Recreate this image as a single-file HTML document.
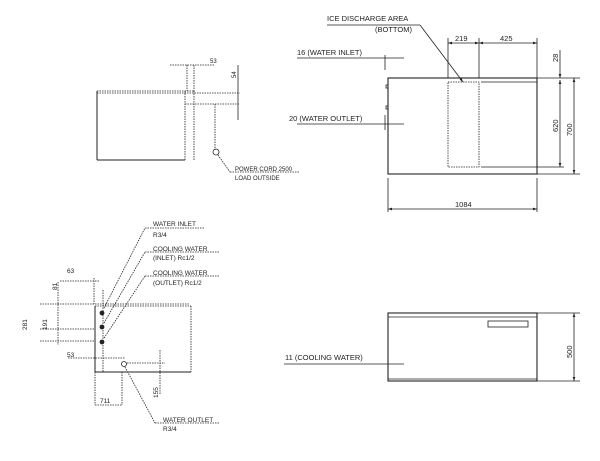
<!DOCTYPE html>
<html><head><style>body{margin:0;background:#fff}svg{display:block}</style></head><body>
<svg width="600" height="461" viewBox="0 0 600 461" xmlns="http://www.w3.org/2000/svg" font-family="Liberation Sans, sans-serif" font-size="7.5" fill="none" stroke="#222" stroke-width="0.8">
<defs><marker id="a" viewBox="0 0 6 6" refX="6" refY="3" markerWidth="5" markerHeight="5" orient="auto-start-reverse"><path d="M0,1 L6,3 L0,5 z" fill="#222" stroke="none"/></marker></defs>
<!-- TOP RIGHT -->
<rect x="388" y="78" width="149" height="96" stroke-width="1.1"/>
<rect x="448" y="82" width="31" height="85" stroke-dasharray="1.5,1"/>
<line x1="481" y1="82" x2="537" y2="82"/><line x1="481" y1="167" x2="564" y2="167"/>
<line x1="537" y1="78" x2="580" y2="78"/><line x1="537" y1="174" x2="580" y2="174"/>
<line x1="448" y1="38" x2="448" y2="78"/><line x1="479" y1="38" x2="479" y2="78"/><line x1="537" y1="38" x2="537" y2="78"/>
<line x1="448" y1="43" x2="479" y2="43" marker-start="url(#a)" marker-end="url(#a)"/>
<line x1="479" y1="43" x2="537" y2="43" marker-start="url(#a)" marker-end="url(#a)"/>
<line x1="560" y1="50" x2="560" y2="78" marker-end="url(#a)"/>
<line x1="560" y1="80" x2="560" y2="167" marker-start="url(#a)" marker-end="url(#a)"/>
<line x1="574" y1="78" x2="574" y2="174" marker-start="url(#a)" marker-end="url(#a)"/>
<line x1="388" y1="178" x2="388" y2="212"/><line x1="537" y1="178" x2="537" y2="212"/>
<line x1="388" y1="209" x2="537" y2="209" marker-start="url(#a)" marker-end="url(#a)"/>
<line x1="327" y1="25" x2="420" y2="25"/><line x1="420" y1="25" x2="463" y2="82" marker-end="url(#a)"/>
<line x1="297" y1="58" x2="404" y2="58"/><line x1="297" y1="124" x2="404" y2="124"/>
<line x1="385" y1="55" x2="385" y2="70"/><line x1="385" y1="115" x2="385" y2="130"/>
<rect x="386" y="85" width="2" height="3"/><rect x="386" y="106" width="2" height="3"/>
<g fill="#222" stroke="none">
<text x="327" y="21">ICE DISCHARGE AREA</text><text x="375" y="32">(BOTTOM)</text>
<text x="455" y="41">219</text><text x="500" y="41">425</text>
<text x="297" y="55">16 (WATER INLET)</text><text x="289" y="121">20 (WATER OUTLET)</text>
<text x="455" y="207">1084</text>
<text transform="translate(558,62) rotate(-90)">28</text>
<text transform="translate(558,132) rotate(-90)">620</text>
<text transform="translate(572,136) rotate(-90)">700</text>
</g>
<!-- BOTTOM RIGHT -->
<rect x="388" y="313" width="149" height="68" stroke-width="1.1"/>
<line x1="388" y1="317" x2="537" y2="317"/><line x1="388" y1="379" x2="537" y2="379"/>
<rect x="488" y="321" width="40" height="6"/>
<line x1="537" y1="313" x2="580" y2="313"/><line x1="537" y1="381" x2="580" y2="381"/>
<line x1="574" y1="313" x2="574" y2="381" marker-start="url(#a)" marker-end="url(#a)"/>
<line x1="284" y1="364" x2="404" y2="364"/>
<g fill="#222" stroke="none">
<text x="285" y="360">11 (COOLING WATER)</text>
<text transform="translate(572,358) rotate(-90)">500</text>
</g>
<!-- TOP LEFT -->
<g stroke-dasharray="1.5,1">
<line x1="97" y1="91" x2="194" y2="91"/><line x1="194" y1="91" x2="194" y2="160"/>
<line x1="185" y1="91" x2="185" y2="160"/>
<line x1="97" y1="93" x2="240" y2="93"/>
<line x1="185" y1="104" x2="240" y2="104"/>
<line x1="187" y1="65" x2="187" y2="91"/><line x1="194" y1="65" x2="194" y2="91"/>
<line x1="170" y1="65" x2="215" y2="65"/>
<line x1="215" y1="104" x2="215" y2="150"/>
<line x1="218" y1="155" x2="230" y2="172"/><line x1="230" y1="172" x2="300" y2="172"/>
</g>
<line x1="97" y1="91" x2="97" y2="160" stroke-width="1"/><line x1="97" y1="160" x2="185" y2="160" stroke-width="1"/>
<line x1="238" y1="65" x2="238" y2="120"/>
<circle cx="216" cy="152" r="3"/>
<g fill="#222" stroke="none" font-size="6">
<text x="210" y="63">53</text>
<text transform="translate(236,78) rotate(-90)">54</text>
<text x="235" y="171">POWER CORD 2500</text><text x="235" y="180">LOAD OUTSIDE</text>
</g>
<!-- BOTTOM LEFT -->
<g stroke-dasharray="1.5,1">
<line x1="95" y1="306" x2="191" y2="306"/><line x1="191" y1="306" x2="191" y2="372"/>
<line x1="40" y1="304" x2="190" y2="304"/>
<line x1="40" y1="329" x2="95" y2="329"/><line x1="40" y1="341" x2="95" y2="341"/>
<line x1="60" y1="281" x2="100" y2="281"/>
<line x1="68" y1="358" x2="125" y2="358"/>
<line x1="103" y1="290" x2="103" y2="372"/><line x1="94" y1="278" x2="94" y2="304"/>
<line x1="127" y1="363" x2="165" y2="363"/><line x1="160" y1="350" x2="160" y2="395"/>
<line x1="95" y1="372" x2="95" y2="405"/><line x1="122" y1="372" x2="122" y2="405"/>
<line x1="95" y1="405" x2="122" y2="405"/>
<line x1="104" y1="308" x2="145" y2="228"/><line x1="104" y1="323" x2="145" y2="252"/>
<line x1="104" y1="338" x2="145" y2="276"/>
<line x1="145" y1="228" x2="205" y2="228"/><line x1="145" y1="252" x2="220" y2="252"/>
<line x1="145" y1="276" x2="220" y2="276"/>
<line x1="125" y1="367" x2="155" y2="423"/><line x1="155" y1="423" x2="220" y2="423"/>
<line x1="58" y1="282" x2="58" y2="345"/>
</g>
<line x1="95" y1="306" x2="95" y2="372" stroke-width="1"/>
<line x1="95" y1="372" x2="191" y2="372" stroke-width="1"/>
<circle cx="102" cy="313" r="2" fill="#222"/><circle cx="102" cy="327" r="2" fill="#222"/><circle cx="102" cy="342" r="2" fill="#222"/>
<circle cx="124" cy="364" r="2.5"/>
<g fill="#222" stroke="none" font-size="6.5">
<text x="153" y="226">WATER INLET</text><text x="153" y="237">R3/4</text>
<text x="153" y="251">COOLING WATER</text><text x="153" y="260">(INLET) Rc1/2</text>
<text x="153" y="275">COOLING WATER</text><text x="153" y="285">(OUTLET) Rc1/2</text>
<text x="67" y="273">63</text><text x="67" y="357">53</text>
<text x="100" y="403">711</text>
<text x="163" y="422">WATER OUTLET</text><text x="163" y="431">R3/4</text>
<text transform="translate(57,290) rotate(-90)">81</text>
<text transform="translate(47,330) rotate(-90)">191</text>
<text transform="translate(27,330) rotate(-90)">281</text>
<text transform="translate(158,398) rotate(-90)">155</text>
</g>
</svg>
</body></html>
